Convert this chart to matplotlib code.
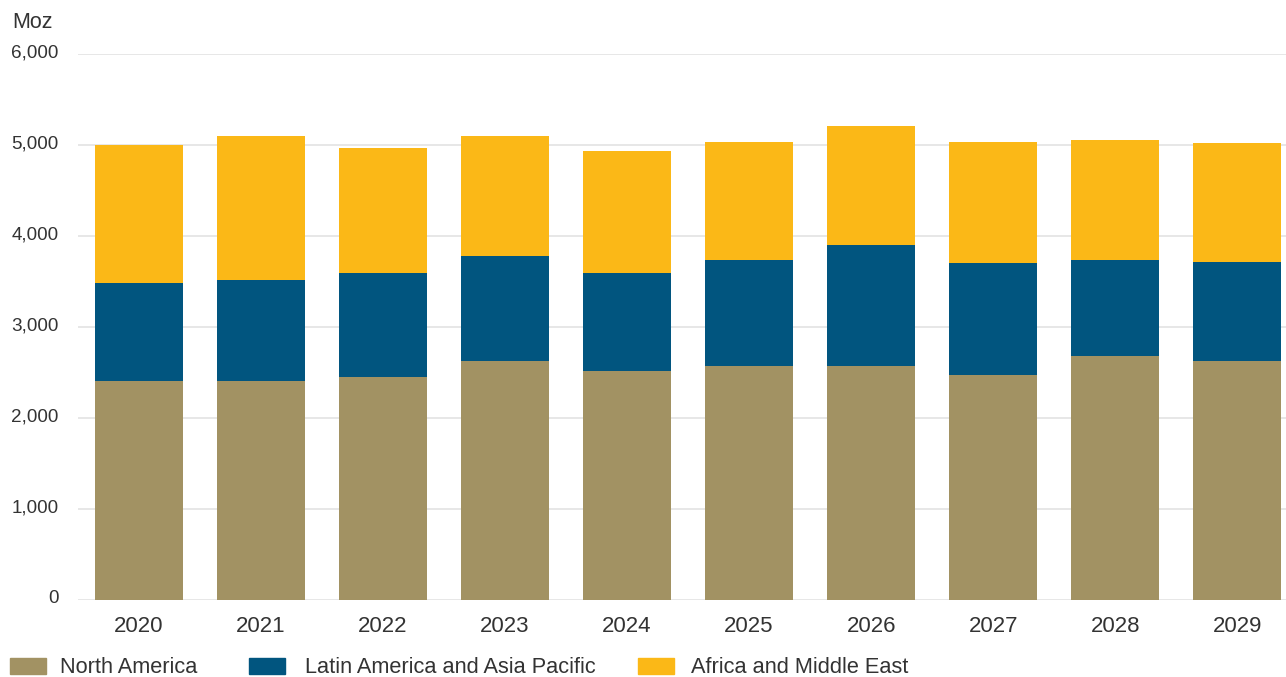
import matplotlib.pyplot as plt
import matplotlib.transforms as mtransforms
from matplotlib.patches import Rectangle
from matplotlib.ticker import FuncFormatter

plt.rcParams["font.family"] = ["Liberation Sans", "DejaVu Sans"]

years = ["2020", "2021", "2022", "2023", "2024", "2025", "2026", "2027", "2028", "2029"]
# cumulative tops, converted to segment sizes below
north_america = [2400, 2400, 2445, 2625, 2510, 2565, 2565, 2470, 2675, 2620]
latam_top = [3480, 3510, 3590, 3775, 3590, 3730, 3895, 3700, 3730, 3710]
total_top = [4995, 5095, 4960, 5095, 4930, 5030, 5205, 5030, 5050, 5020]

latam_apac = [t - n for t, n in zip(latam_top, north_america)]
africa_me = [t - l for t, l in zip(total_top, latam_top)]

series = [
    ("North America", north_america, "#A29263"),
    ("Latin America and Asia Pacific", latam_apac, "#01557F"),
    ("Africa and Middle East", africa_me, "#FBB817"),
]

W, H = 1286, 677
fig = plt.figure(figsize=(W / 100, H / 100), dpi=100)
ax = fig.add_axes([78 / W, 1 - 599.7 / H, 1 - 78 / W, (599.7 - 53.7) / H])

x = range(len(years))
bottom = [0] * len(years)
for name, vals, color in series:
    ax.bar(x, vals, width=0.72, bottom=bottom, color=color, zorder=3)
    bottom = [b + v for b, v in zip(bottom, vals)]

ax.set_xlim(-0.5, 9.4)
ax.set_ylim(0, 6000)
ax.set_yticks(range(0, 6001, 1000))
ax.yaxis.set_major_formatter(FuncFormatter(lambda v, p: f"{int(v):,}"))
ax.set_xticks(list(x))
ax.set_xticklabels(years)
ax.grid(axis="y", color="#e0e0e0", linewidth=1.1, zorder=0)
for s in ax.spines.values():
    s.set_visible(False)
ax.tick_params(axis="both", length=0, colors="#333333")
ax.tick_params(axis="x", pad=12, labelsize=16)
ax.tick_params(axis="y", pad=14, labelsize=13.6)

# y labels sit a touch above their gridlines
shift = mtransforms.ScaledTranslation(0, 3 / 100, fig.dpi_scale_trans)
for lbl in ax.get_yticklabels():
    lbl.set_transform(lbl.get_transform() + shift)

fig.text(12 / W, 1 - 22 / H, "Moz", fontsize=15.5, color="#333333", va="center")

# legend along the bottom edge: (square left, text left) in pixels
leg_pos = [(10, 60), (249, 305), (638, 691)]
for (name, vals, color), (sx, tx) in zip(series, leg_pos):
    fig.patches.append(Rectangle((sx / W, 1 - 674 / H), 36 / W, 16 / H,
                                 transform=fig.transFigure, color=color))
    fig.text(tx / W, 1 - 667.5 / H, name, fontsize=15.7,
             color="#333333", va="center")

fig.savefig("out.png", dpi=100)
